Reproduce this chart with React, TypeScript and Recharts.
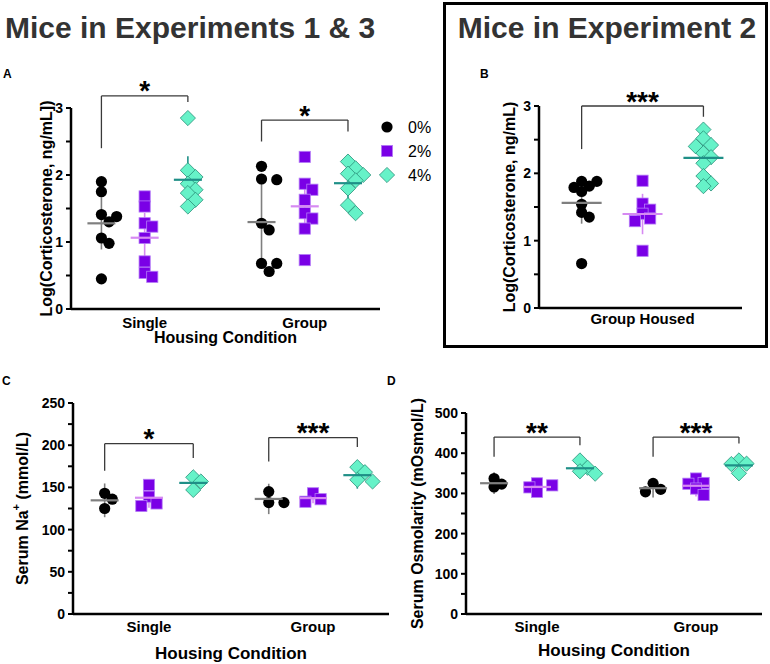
import React from 'react';
import { ScatterChart, Scatter, XAxis, YAxis, ReferenceLine, ErrorBar } from 'recharts';

const FONT = '"Liberation Sans", Arial, Helvetica, sans-serif';

const DOSES = ['0%', '2%', '4%'];
const HOUSING = ['Single', 'Group'];

// dose colours: marker fill, marker edge, mean/SD bar
const DOSE_FILL = ['#000000', '#7a00e6', '#66f2c8'];
const DOSE_EDGE = ['#000000', '#b57cf7', '#2a8f78'];
const DOSE_BAR = ['#7f7f7f', '#d68af2', '#1f8f87'];

// Panel A: Log(corticosterone), experiments 1 & 3 — rows are 0%, 2%, 4%
const A_SINGLE = [
  [1.9, 1.75, 1.41, 1.38, 1.3, 1.06, 0.98, 0.45],
  [1.68, 1.53, 1.28, 1.23, 1.06, 0.71, 0.54, 0.48],
  [2.85, 2.07, 1.97, 1.87, 1.78, 1.73, 1.63, 1.53],
];
const A_GROUP = [
  [2.13, 1.94, 1.93, 1.28, 1.18, 0.68, 0.68, 0.56],
  [2.27, 1.87, 1.78, 1.63, 1.43, 1.35, 1.2, 0.73],
  [2.2, 2.1, 2.02, 2.0, 1.92, 1.8, 1.55, 1.43],
];
const A_SD = [[0.39, 0.37, 0.35], [0.59, 0.37, 0.26]];

// Panel B: Log(corticosterone), experiment 2 (group housed)
const B_GROUP = [
  [1.88, 1.88, 1.81, 1.79, 1.73, 1.54, 1.42, 1.35, 0.66],
  [1.89, 1.55, 1.46, 1.4, 1.33, 1.29, 0.85],
  [2.65, 2.52, 2.42, 2.4, 2.3, 2.24, 2.15, 1.96, 1.85, 1.81],
];
const B_SD = [0.31, 0.3, 0.21];

// Panel C: serum Na+
const C_SINGLE = [[143, 136, 125], [153, 139, 131, 128], [162, 157, 147]];
const C_GROUP = [[145, 132, 132], [143, 136, 133], [174, 168, 159, 157]];
const C_SD = [[20, 12, 14], [18, 6, 16]];

// Panel D: serum osmolarity
const D_SINGLE = [[337, 323, 316], [325, 320, 315, 304], [382, 364, 355, 349]];
const D_GROUP = [[325, 310, 304], [337, 326, 324, 312, 296], [382, 374, 373, 350]];
const D_SD = [[27, 17, 20], [23, 27, 20]];

// significance brackets: [left leg bottom, top, right leg bottom]
const A_BRACKETS = [[2.4, 3.18, 3.09], [2.5, 2.82, 2.65]];
const A_STARS = ['*', '*'];
const B_BRACKETS = [[2.36, 3.0, 2.84]];
const B_STARS = ['***'];
const C_BRACKETS = [[169.7, 201.8, 184.7], [180.8, 209, 197.8]];
const C_STARS = ['*', '***'];
const D_BRACKETS = [[391, 440, 420], [391, 440, 424]];
const D_STARS = ['**', '***'];

const A_TICKS = [0, 0.5, 1, 1.5, 2, 2.5, 3];
const C_TICKS = [0, 25, 50, 75, 100, 125, 150, 175, 200, 225, 250];
const D_TICKS = [0, 50, 100, 150, 200, 250, 300, 350, 400, 450, 500];

function Marker({ dose, cx, cy }: { dose: number; cx: number; cy: number }) {
  if (dose === 0) return <circle cx={cx} cy={cy} r={5.6} fill={DOSE_FILL[0]} />;
  if (dose === 1)
    return (
      <rect x={cx - 5.6} y={cy - 5.6} width={11.2} height={11.2} fill={DOSE_FILL[1]}
        stroke={DOSE_EDGE[1]} strokeWidth={0.8} />
    );
  const r = 7.6;
  return (
    <polygon points={`${cx},${cy - r} ${cx + r},${cy} ${cx},${cy + r} ${cx - r},${cy}`}
      fill={DOSE_FILL[2]} stroke={DOSE_EDGE[2]} strokeWidth={0.8} />
  );
}

// simple beeswarm: spread points sideways so they don't sit right on top of each other
function swarm(values: number[], pxX: number, pxY: number, diam: number): number[] {
  const order = values.map((_, i) => i).sort((a, b) => values[b] - values[a]);
  const placed: { x: number; y: number }[] = [];
  const out = values.map(() => 0);
  const step = diam * 0.68;
  const minD = diam * 0.72;
  for (const i of order) {
    const y = values[i] * pxY;
    for (let k = 0; k < 30; k++) {
      const off = k === 0 ? 0 : (k % 2 ? 1 : -1) * Math.ceil(k / 2) * step;
      if (placed.every((p) => (p.x - off) ** 2 + (p.y - y) ** 2 >= minD * minD)) {
        placed.push({ x: off, y });
        out[i] = off / pxX;
        break;
      }
    }
  }
  return out;
}

const mean = (v: number[]) => v.reduce((s, x) => s + x, 0) / v.length;

const starLabel = (text: string) => (props: any) => {
  const vb = props.viewBox || {};
  return (
    <text x={vb.x + vb.width / 2} y={vb.y + 4.5} textAnchor="middle" fontSize={28}
      fontWeight={700} fontFamily={FONT} fill="#000">{text}</text>
  );
};

const yTitle = (content: React.ReactNode, dx: number) => (props: any) => {
  const vb = props.viewBox || {};
  const cx = vb.x + dx;
  const cy = vb.y + vb.height / 2;
  return (
    <text x={cx} y={cy} transform={`rotate(-90 ${cx} ${cy})`} textAnchor="middle"
      dominantBaseline="central" fontSize={16} fontWeight={700} fontFamily={FONT} fill="#000">
      {content}
    </text>
  );
};

const xTitle = (text: string, dy: number, size: number) => (props: any) => {
  const vb = props.viewBox || {};
  return (
    <text x={vb.x + vb.width / 2} y={vb.y + dy} textAnchor="middle" dominantBaseline="central"
      fontSize={size} fontWeight={700} fontFamily={FONT} fill="#000">{text}</text>
  );
};

interface PanelProps {
  left: number; top: number; width: number; height: number;
  margin: { top: number; right: number; bottom: number; left: number };
  yAxisWidth: number; xAxisHeight: number;
  xDomain: [number, number]; yDomain: [number, number];
  yTicks: number[]; yLabelStep: number;
  centers: number[]; names: string[];
  data: number[][][]; sd: number[][];
  brackets: number[][]; stars: string[];
  yTitleNode: React.ReactNode; yTitleDx: number;
  xTitleText?: string; xTitleDy?: number; xTitleSize?: number;
  doseOffset: number; meanHalf: number; xTickSize: number; xTickMargin: number;
}

function Panel(p: PanelProps) {
  const plotW = p.width - p.margin.left - p.margin.right - p.yAxisWidth;
  const plotH = p.height - p.margin.top - p.margin.bottom - p.xAxisHeight;
  const pxX = plotW / (p.xDomain[1] - p.xDomain[0]);
  const pxY = plotH / (p.yDomain[1] - p.yDomain[0]);
  const axisLine = { stroke: '#000', strokeWidth: 2.5 };

  const series: React.ReactNode[] = [];
  const bars: React.ReactNode[] = [];
  p.centers.forEach((c, hi) => {
    p.data[hi].forEach((vals, dose) => {
      const x0 = c + (dose - 1) * p.doseOffset;
      const jit = swarm(vals, pxX, pxY, 11.2);
      const pts = vals.map((v, i) => ({ x: x0 + jit[i], y: v }));
      series.push(
        <Scatter key={`s${hi}${dose}`} name={DOSES[dose]} data={pts} isAnimationActive={false}
          shape={(s: any) => <Marker dose={dose} cx={s.cx} cy={s.cy} />} />
      );
      // mean line with SD bar, drawn over the points
      const summary = [{ x: x0, y: mean(vals), err: p.sd[hi][dose] }];
      bars.push(
        <Scatter key={`m${hi}${dose}`} data={summary} isAnimationActive={false}
          shape={(s: any) => (
            <line x1={s.cx - p.meanHalf} x2={s.cx + p.meanHalf} y1={s.cy} y2={s.cy}
              stroke={DOSE_BAR[dose]} strokeWidth={2.2} />
          )}>
          <ErrorBar dataKey="err" direction="y" width={0} stroke={DOSE_BAR[dose]} strokeWidth={1.6}
            isAnimationActive={false} />
        </Scatter>
      );
    });
  });

  const brk: React.ReactNode[] = [];
  p.brackets.forEach(([yl, top, yr], i) => {
    const x1 = p.centers[i] - p.doseOffset;
    const x2 = p.centers[i] + p.doseOffset;
    const st = { stroke: '#3a3a3a', strokeWidth: 1.3, ifOverflow: 'visible' as const };
    brk.push(
      <ReferenceLine key={`bl${i}`} {...st} segment={[{ x: x1, y: yl }, { x: x1, y: top }]} />,
      <ReferenceLine key={`bt${i}`} {...st} segment={[{ x: x1, y: top }, { x: x2, y: top }]}
        label={starLabel(p.stars[i])} />,
      <ReferenceLine key={`br${i}`} {...st} segment={[{ x: x2, y: top }, { x: x2, y: yr }]} />
    );
  });

  return (
    <div style={{ position: 'absolute', left: p.left, top: p.top }}>
      <ScatterChart width={p.width} height={p.height} margin={p.margin}>
        <XAxis type="number" dataKey="x" domain={p.xDomain} allowDataOverflow ticks={p.centers}
          tickFormatter={(v: number) => p.names[p.centers.indexOf(v)] ?? ''}
          height={p.xAxisHeight} axisLine={axisLine} tickLine={false}
          tickSize={p.xTickSize} tickMargin={p.xTickMargin}
          tick={{ fill: '#000', fontSize: 15, fontWeight: 700, fontFamily: FONT }}
          label={p.xTitleText ? xTitle(p.xTitleText, p.xTitleDy || 0, p.xTitleSize || 16) : undefined} />
        <YAxis type="number" dataKey="y" domain={p.yDomain} allowDataOverflow ticks={p.yTicks}
          interval={0}
          tickFormatter={(v: number) => (Math.abs(v / p.yLabelStep - Math.round(v / p.yLabelStep)) < 1e-6 ? String(v) : '')}
          width={p.yAxisWidth} axisLine={axisLine} tickLine={{ stroke: '#000', strokeWidth: 2 }}
          tickSize={5} tickMargin={3}
          tick={{ fill: '#000', fontSize: 14, fontWeight: 700, fontFamily: FONT }}
          label={yTitle(p.yTitleNode, p.yTitleDx)} />
        {series}
        {bars}
        {brk}
      </ScatterChart>
    </div>
  );
}

function LegendMarks() {
  const rows = [127, 151, 175];
  return (
    <g>
      {DOSES.map((d, i) => (
        <g key={d}>
          <Marker dose={i} cx={387} cy={rows[i]} />
          <text x={408} y={rows[i]} dominantBaseline="central" fontSize={16} fontFamily={FONT} fill="#000">{d}</text>
        </g>
      ))}
    </g>
  );
}

export default function App() {
  return (
    <div style={{ position: 'absolute', left: 0, top: 0, width: 770, height: 664, background: '#fff', fontFamily: FONT }}>
      <svg width={770} height={664} style={{ position: 'absolute', left: 0, top: 0 }}>
        <text x={5} y={38} fontSize={30} fontWeight={700} fontFamily={FONT} fill="#333">Mice in Experiments 1 &amp; 3</text>
        <rect x={444.5} y={3.5} width={322} height={343} fill="none" stroke="#000" strokeWidth={3} />
        <text x={607} y={38} textAnchor="middle" fontSize={30} fontWeight={700} fontFamily={FONT} fill="#333">Mice in Experiment 2</text>
        <text x={3} y={78} fontSize={12} fontWeight={700} fontFamily={FONT}>A</text>
        <text x={480} y={78} fontSize={12} fontWeight={700} fontFamily={FONT}>B</text>
        <text x={2} y={385} fontSize={12} fontWeight={700} fontFamily={FONT}>C</text>
        <text x={387} y={385} fontSize={12} fontWeight={700} fontFamily={FONT}>D</text>
        <LegendMarks />
      </svg>

      <Panel left={0} top={60} width={440} height={290}
        margin={{ top: 48, right: 60, bottom: 0, left: 20 }} yAxisWidth={51} xAxisHeight={41}
        xDomain={[0.54, 2.47]} yDomain={[0, 3]} yTicks={A_TICKS} yLabelStep={1}
        centers={[1, 2]} names={HOUSING} data={[A_SINGLE, A_GROUP]} sd={A_SD}
        brackets={A_BRACKETS} stars={A_STARS}
        yTitleNode="Log(Corticosterone, ng/mL])" yTitleDx={26}
        xTitleText="Housing Condition" xTitleDy={28} xTitleSize={16}
        doseOffset={0.27} meanHalf={14} xTickSize={6} xTickMargin={2} />

      <Panel left={450} top={50} width={310} height={290}
        margin={{ top: 56, right: 18, bottom: 0, left: 20 }} yAxisWidth={69} xAxisHeight={32}
        xDomain={[0.49, 1.49]} yDomain={[0, 3]} yTicks={A_TICKS} yLabelStep={1}
        centers={[1]} names={['Group Housed']} data={[B_GROUP]} sd={[B_SD]}
        brackets={B_BRACKETS} stars={B_STARS}
        yTitleNode="Log(Corticosterone, ng/mL)" yTitleDx={39}
        doseOffset={0.3} meanHalf={20} xTickSize={5} xTickMargin={0} />

      <Panel left={0} top={370} width={400} height={294}
        margin={{ top: 33, right: 11, bottom: 0, left: 10 }} yAxisWidth={63} xAxisHeight={50}
        xDomain={[0.537, 2.463]} yDomain={[0, 250]} yTicks={C_TICKS} yLabelStep={50}
        centers={[1, 2]} names={HOUSING} data={[C_SINGLE, C_GROUP]} sd={C_SD}
        brackets={C_BRACKETS} stars={C_STARS}
        yTitleNode={<><tspan>Serum Na</tspan><tspan dy={-6} fontSize={11}>+</tspan><tspan dy={6}> (mmol/L)</tspan></>}
        yTitleDx={12}
        xTitleText="Housing Condition" xTitleDy={39} xTitleSize={17}
        doseOffset={0.27} meanHalf={14} xTickSize={6} xTickMargin={1} />

      <Panel left={395} top={370} width={375} height={294}
        margin={{ top: 43, right: 8, bottom: 0, left: 5 }} yAxisWidth={66} xAxisHeight={50}
        xDomain={[0.5535, 2.415]} yDomain={[0, 500]} yTicks={D_TICKS} yLabelStep={100}
        centers={[1, 2]} names={HOUSING} data={[D_SINGLE, D_GROUP]} sd={D_SD}
        brackets={D_BRACKETS} stars={D_STARS}
        yTitleNode="Serum Osmolarity (mOsmol/L)" yTitleDx={17}
        xTitleText="Housing Condition" xTitleDy={36} xTitleSize={17}
        doseOffset={0.27} meanHalf={14} xTickSize={6} xTickMargin={1} />
    </div>
  );
}
